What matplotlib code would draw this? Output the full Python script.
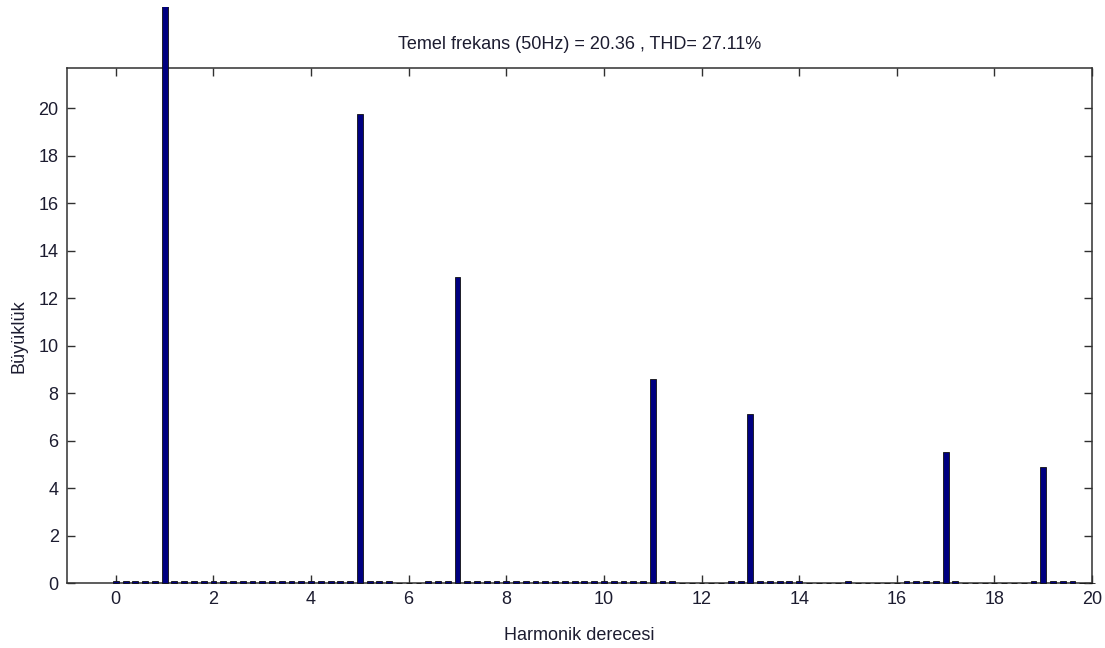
import numpy as np
import matplotlib
matplotlib.use("Agg")
import matplotlib.pyplot as plt
from matplotlib.transforms import Bbox, TransformedBbox

# Harmonic spectrum (bins every 0.2 harmonic order), magnitudes in % of fundamental
harmonic_order = np.round(np.arange(0, 101) * 0.2, 1)
magnitude = [
    0.1, 0.1, 0.1, 0.1, 0.1, 100.0, 0.1, 0.1, 0.1, 0.1,     # 0.0 - 1.8
    0.1, 0.1, 0.1, 0.1, 0.1, 0.1, 0.1, 0.1, 0.1, 0.1,       # 2.0 - 3.8
    0.1, 0.1, 0.1, 0.1, 0.1, 19.75, 0.1, 0.1, 0.1, 0.0,     # 4.0 - 5.8
    0.0, 0.0, 0.1, 0.1, 0.1, 12.9, 0.1, 0.1, 0.1, 0.1,      # 6.0 - 7.8
    0.1, 0.1, 0.1, 0.1, 0.1, 0.1, 0.1, 0.1, 0.1, 0.1,       # 8.0 - 9.8
    0.1, 0.1, 0.1, 0.1, 0.1, 8.6, 0.1, 0.1, 0.0, 0.0,       # 10.0 - 11.8
    0.0, 0.0, 0.0, 0.1, 0.1, 7.1, 0.1, 0.1, 0.1, 0.1,       # 12.0 - 13.8
    0.1, 0.0, 0.0, 0.0, 0.0, 0.1, 0.0, 0.0, 0.0, 0.0,       # 14.0 - 15.8
    0.0, 0.1, 0.1, 0.1, 0.1, 5.5, 0.1, 0.0, 0.0, 0.0,       # 16.0 - 17.8
    0.0, 0.0, 0.0, 0.0, 0.1, 4.9, 0.1, 0.1, 0.1, 0.0,       # 18.0 - 19.8
    0.0,                                                    # 20.0
]
fundamental_value = 20.36
thd_percent = 27.11

title_text = f"Temel frekans (50Hz) = {fundamental_value:.2f} , THD= {thd_percent:.2f}%"
x_ticks = [0, 2, 4, 6, 8, 10, 12, 14, 16, 18, 20]
y_ticks = [0, 2, 4, 6, 8, 10, 12, 14, 16, 18, 20]

plt.rcParams["font.family"] = ["Liberation Sans", "DejaVu Sans"]
fsize = 13
text_color = "#1c1c30"

fig = plt.figure(figsize=(11.05, 6.48), dpi=100)
ax = fig.add_axes([67 / 1105, 1 - 583 / 648, (1092 - 67) / 1105, (583 - 68) / 648])

bars = ax.bar(harmonic_order, magnitude, width=0.12, color="#000080",
              edgecolor="#101010", linewidth=0.6, zorder=3)
# let bars run past the top of the axes, up to the figure border
clip = TransformedBbox(Bbox([[0, 0], [1, 1 - 7 / 648]]), fig.transFigure)
for b in bars:
    b.set_clip_box(clip)

ax.set_xlim(-1, 20)
ax.set_ylim(0, 21.7)
ax.set_xticks(x_ticks)
ax.set_yticks(y_ticks)
ax.tick_params(direction="in", length=6, width=1, top=True, right=True,
               labelsize=fsize, labelcolor=text_color, color="#303030", pad=6)
for s in ax.spines.values():
    s.set_color("#303030")
    s.set_linewidth(1.1)

ax.set_title(title_text, fontsize=fsize, color=text_color, pad=14)
ax.set_xlabel("Harmonik derecesi", fontsize=fsize, color=text_color)
ax.set_ylabel("Büyüklük", fontsize=fsize, color=text_color)
ax.xaxis.set_label_coords(0.5, -0.086)
ax.yaxis.set_label_coords(-0.039, 0.48)

fig.savefig("out.png", dpi=100)
